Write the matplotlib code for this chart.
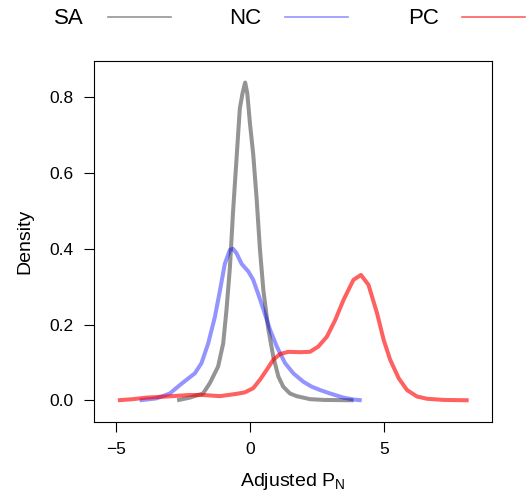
import numpy as np
import matplotlib
matplotlib.use("Agg")
import matplotlib.pyplot as plt
from matplotlib.lines import Line2D

plt.rcParams['font.family'] = ['Liberation Sans', 'DejaVu Sans']
plt.rcParams['mathtext.fontset'] = 'custom'
plt.rcParams['mathtext.rm'] = 'Liberation Sans'
plt.rcParams['mathtext.it'] = 'Liberation Sans'

# density curves
sa_x = [-2.73, -2.26, -1.76, -1.51, -1.20, -1.01, -0.885, -0.76, -0.64, -0.51, -0.39, -0.29, -0.19,
        -0.11, -0.01, 0.11, 0.24, 0.36, 0.49, 0.67, 0.86, 1.05, 1.23, 1.48, 1.73, 2.23, 2.73, 3.85]
sa_y = [0.0, 0.007, 0.018, 0.045, 0.089, 0.15, 0.24, 0.35, 0.50, 0.64, 0.77, 0.81, 0.839,
        0.81, 0.73, 0.65, 0.53, 0.40, 0.29, 0.19, 0.115, 0.0625, 0.036, 0.018, 0.011, 0.003, 0.001, 0.0]

nc_x = [-4.13, -3.50, -3.0, -2.63, -2.38, -2.07, -1.82, -1.57, -1.32, -1.13, -0.95, -0.76, -0.64,
        -0.51, -0.32, -0.07, 0.11, 0.30, 0.49, 0.74, 0.99, 1.30, 1.61, 1.98, 2.29, 2.61, 2.98,
        3.48, 3.85, 4.16]
nc_y = [0.0, 0.005, 0.018, 0.040, 0.054, 0.071, 0.098, 0.15, 0.22, 0.29, 0.36, 0.397, 0.40,
        0.388, 0.36, 0.34, 0.318, 0.28, 0.24, 0.186, 0.142, 0.098, 0.071, 0.049, 0.036, 0.027,
        0.018, 0.007, 0.002, 0.0]

pc_x = [-4.94, -4.38, -3.88, -3.13, -2.26, -1.76, -1.13, -0.51, -0.20, 0.11, 0.36, 0.61, 0.86,
        1.11, 1.42, 1.86, 2.23, 2.54, 2.86, 3.17, 3.48, 3.85, 4.13, 4.41, 4.73, 4.98, 5.22, 5.54,
        5.85, 6.22, 6.60, 7.22, 8.15]
pc_y = [0.0, 0.003, 0.007, 0.010, 0.014, 0.014, 0.011, 0.017, 0.021, 0.032, 0.054, 0.080, 0.107,
        0.122, 0.128, 0.127, 0.128, 0.142, 0.168, 0.212, 0.265, 0.318, 0.331, 0.305, 0.23, 0.159,
        0.107, 0.058, 0.027, 0.010, 0.004, 0.001, 0.0]

groups = ["SA", "NC", "PC"]
colors = [(0, 0, 0, 0.42), (0, 0, 1, 0.42), (1, 0, 0, 0.62)]

fig = plt.figure(figsize=(5.32, 5.0), dpi=100)
ax = fig.add_axes([94/532, 78/500, 398/532, 361.3/500])

for xs, ys, c in zip([sa_x, nc_x, pc_x], [sa_y, nc_y, pc_y], colors):
    ax.plot(xs, ys, color=c, lw=2.9, solid_capstyle='butt', solid_joinstyle='round')

ax.set_xlim(-5.83, 9.02)
ax.set_ylim(-0.0573, 0.8966)
ax.set_xticks([-5, 0, 5])
ax.set_xticklabels(["\u22125", "0", "5"])
ax.set_yticks([0.0, 0.2, 0.4, 0.6, 0.8])
ax.set_yticklabels(["0.0", "0.2", "0.4", "0.6", "0.8"])
ax.tick_params(length=7.5, width=0.8, labelsize=12.5, pad=7)
for s in ax.spines.values():
    s.set_linewidth(0.8)
ax.set_xlabel("Adjusted P$_\\mathregular{N}$", fontsize=14, labelpad=10)
ax.set_ylabel("Density", fontsize=14, labelpad=12)

# legend across the top
text_x = [54, 229, 408]
line_x = [108, 285, 462]
for g, c, tx, lx in zip(groups, colors, text_x, line_x):
    fig.text(tx/532, 1 - 18.5/500, g, fontsize=16, ha='left', va='center')
    fig.add_artist(Line2D([lx/532, (lx + 63)/532], [1 - 16.7/500, 1 - 16.7/500],
                          color=c[:3], alpha=c[3], lw=1.2))

fig.savefig("out.png", dpi=100)
